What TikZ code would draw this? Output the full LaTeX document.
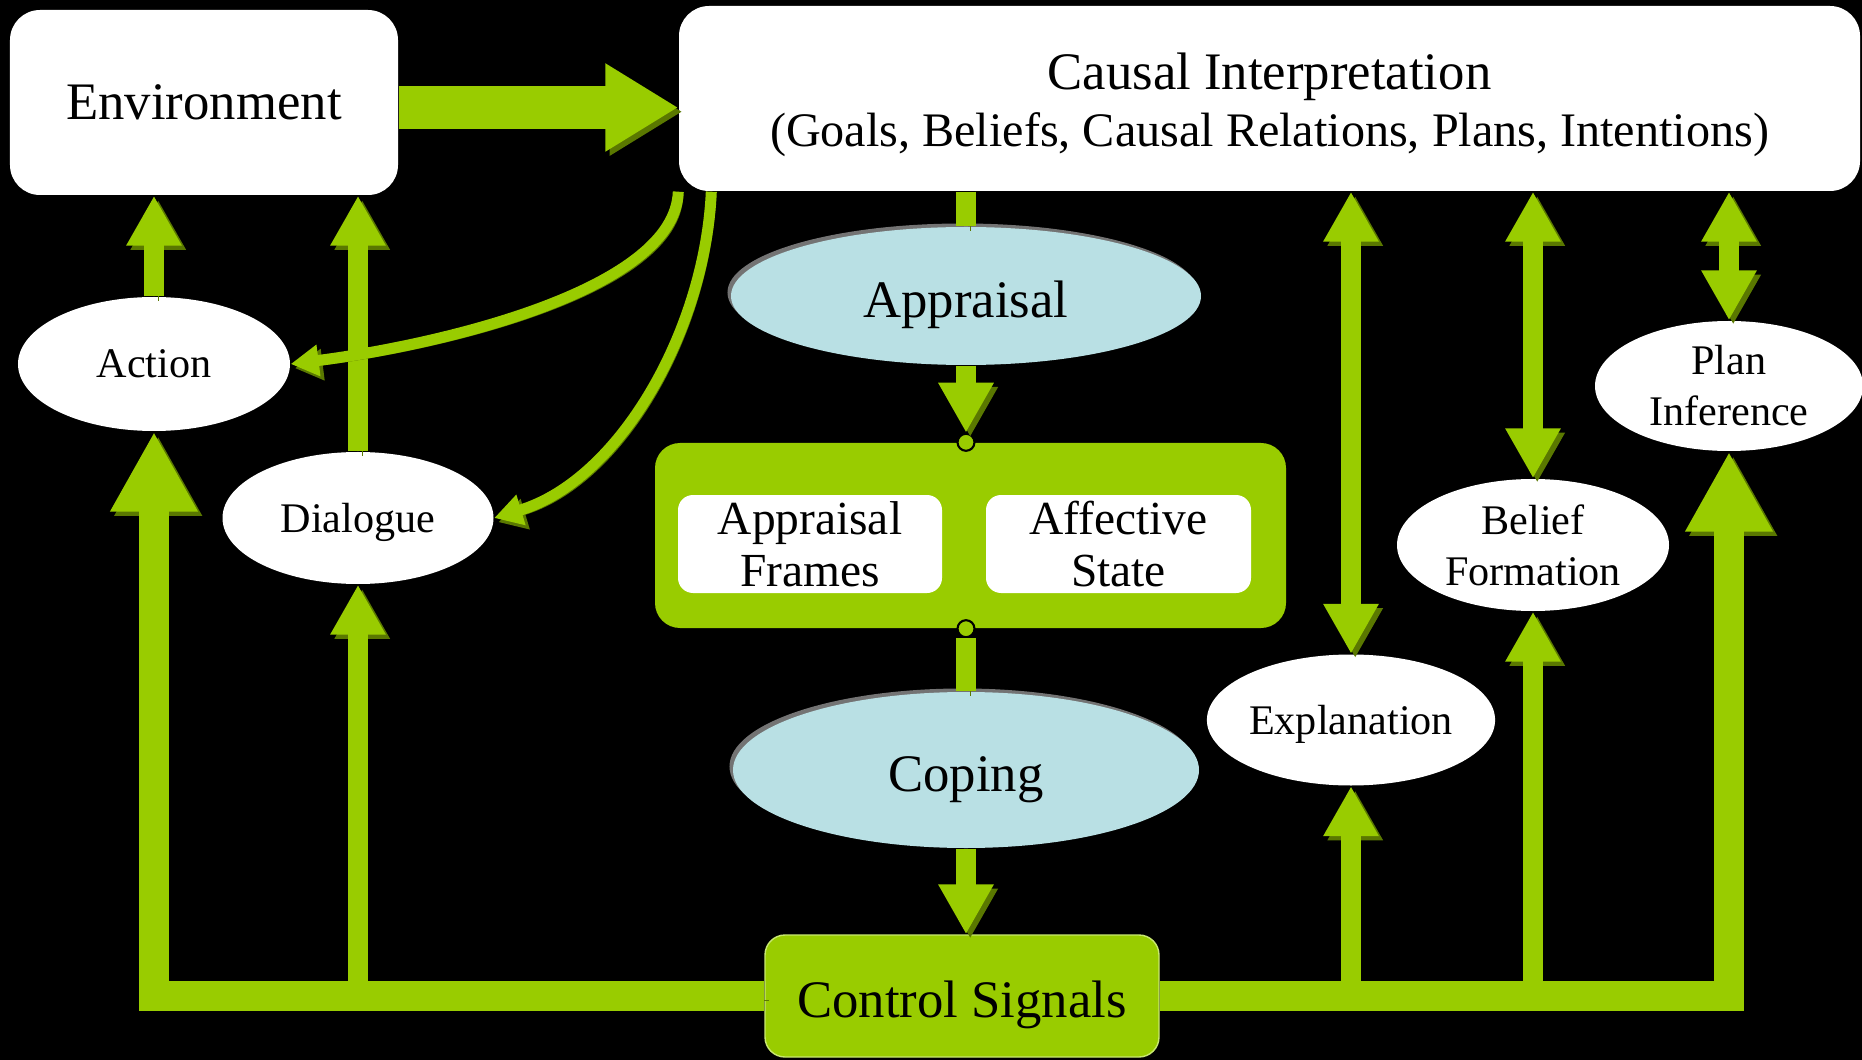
\documentclass[tikz,border=0pt]{standalone}
\usepackage{fontspec}
\setmainfont{Liberation Serif}
\usetikzlibrary{arrows.meta,shapes.geometric,positioning,calc}

\definecolor{leaf}{HTML}{99CC00}
\definecolor{leafdark}{HTML}{5A7800}
\definecolor{leaflight}{HTML}{C8E870}
\definecolor{sky}{HTML}{B9E0E4}

\newcommand{\bigtext}{\fontsize{15}{16.2}\selectfont}
\newcommand{\subtext}{\fontsize{13.7}{16.2}\selectfont}
\newcommand{\midtext}{\fontsize{13.5}{14.8}\selectfont}
\newcommand{\smalltext}{\fontsize{12}{14.5}\selectfont}

\begin{document}
\begin{tikzpicture}[
    box/.style={fill=white, rounded corners=0.3cm, align=center, inner sep=0pt},
    bubble/.style={ellipse, fill=white, align=center, inner sep=0pt, font=\smalltext},
    blob/.style={ellipse, fill=sky, inner sep=0pt, font=\bigtext, text height=0.43cm, text depth=0pt, preaction={fill=black!55, transform canvas={xshift=-1pt, yshift=1pt}}},
    relief/.style={preaction={draw=leafdark, transform canvas={xshift=1.2pt, yshift=-1.2pt}}},
    bar/.style={draw=leaf, line width=0.2cm, relief},
    pipe/.style={bar, -{Triangle[width=0.52cm, length=0.5cm]}},
    fatpipe/.style={draw=leaf, line width=0.3cm, relief, -{Triangle[width=0.82cm, length=0.8cm]}},
    twoway/.style={bar, {Triangle[width=0.52cm, length=0.5cm]}-{Triangle[width=0.52cm, length=0.5cm]}},
    curl/.style={draw=leaf, line width=0.11cm, relief, -{Triangle[width=0.3cm, length=0.28cm]}},
    dot/.style={circle, draw=black, fill=leaf, line width=0.6pt, inner sep=0pt, minimum size=0.17cm}
]
    % black page
    \fill[black] (0,0) rectangle (18.62,-10.60);
    \useasboundingbox (0,0) rectangle (18.62,-10.60);

    % Top boxes
    \node[box, minimum width=3.88cm, minimum height=1.85cm, font=\bigtext] (env) at (2.04,-1.025) {Environment};
    \node[box, minimum width=11.81cm, minimum height=1.85cm, font=\bigtext] (causal) at (12.695,-0.985) {\rule{0pt}{0.5cm}Causal Interpretation\\{\subtext (Goals, Beliefs, Causal Relations, Plans, Intentions)}};

    % Middle column
    \node[blob, minimum width=4.7cm, minimum height=1.38cm] (appr) at (9.66,-2.96) {Appraisal};
    \node[fill=leaf, rounded corners=0.25cm, minimum width=6.31cm, minimum height=1.85cm] (state) at (9.705,-5.355) {};
    \node[box, rounded corners=0.15cm, minimum width=2.64cm, minimum height=0.98cm, font=\midtext] (frames) at (8.10,-5.44) {Appraisal\\Frames};
    \node[box, rounded corners=0.15cm, minimum width=2.65cm, minimum height=0.98cm, font=\midtext] (affect) at (11.185,-5.44) {Affective\\State};
    \node[dot] (intop) at (appr.south |- state.north) {};
    \node[dot] (inbot) at (appr.south |- state.south) {};
    \node[blob, minimum width=4.66cm, minimum height=1.56cm] (cope) at (9.66,-7.70) {Coping};
    \node[fill=leaf, draw=leaflight, rounded corners=0.2cm, minimum width=3.94cm, minimum height=1.22cm, font=\bigtext, text height=0.43cm, text depth=0pt] (ctrl) at (9.62,-9.96) {Control Signals};

    % Processes left and right
    \node[bubble, minimum width=2.72cm, minimum height=1.34cm] (action) at (1.54,-3.64) {Action};
    \node[bubble, minimum width=2.71cm, minimum height=1.32cm, text depth=0pt] (dialog) at (3.58,-5.18) {Dialogue};
    \node[bubble, minimum width=2.71cm, minimum height=1.31cm, text depth=0pt] (expl) at (13.51,-7.20) {Explanation};
    \node[bubble, minimum width=2.72cm, minimum height=1.32cm] (belief) at (15.33,-5.45) {Belief\\Formation};
    \node[bubble, minimum width=2.68cm, minimum height=1.30cm] (plan) at (17.29,-3.86) {Plan\\Inference};

    % Environment feeds the interpretation
    \draw[draw=leaf, line width=0.43cm, relief, -{Triangle[width=0.83cm, length=0.73cm]}] (env.east |- 0,-1.075) -- (causal.west |- 0,-1.075);

    % Outputs up to the environment
    \draw[pipe] (action.north) -- (action.north |- env.south);
    \draw[pipe] (dialog.north) -- (dialog.north |- env.south);

    % Interpretation to action and dialogue
    \draw[curl] (causal.south west) .. controls (6.75,-2.9) and (4.4,-3.45) .. (action.east);
    \draw[curl] ([xshift=0.33cm]causal.south west) .. controls (7.05,-3.3) and (6.2,-4.8) .. (dialog.east);

    % Appraisal chain
    \draw[bar] (appr.north |- causal.south) -- (appr.north);
    \draw[pipe] (appr.south) -- (intop);
    \draw[bar] (inbot) -- (cope.north);
    \draw[pipe] (cope.south) -- (cope.south |- ctrl.north);

    % Control signals out to every process
    \draw[fatpipe] (ctrl.west) -| (action.south);
    \draw[pipe] (ctrl.west) -| (dialog.south);
    \draw[fatpipe] (ctrl.east) -| (plan.south);
    \draw[pipe] (ctrl.east) -| (expl.south);
    \draw[pipe] (ctrl.east) -| (belief.south);

    % Two-way links with the interpretation
    \draw[twoway] (expl.north |- causal.south) -- (expl.north);
    \draw[twoway] (belief.north |- causal.south) -- (belief.north);
    \draw[twoway] (plan.north |- causal.south) -- (plan.north);
\end{tikzpicture}
\end{document}
